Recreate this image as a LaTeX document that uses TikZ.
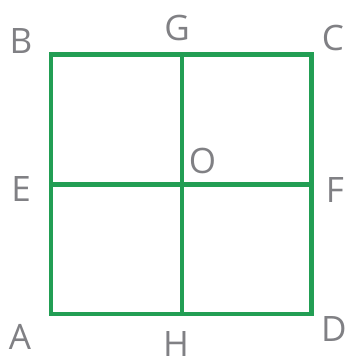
\documentclass[tikz,border=0pt]{standalone}
\usepackage{fontspec}
\setmainfont{Open Sans}
\definecolor{sqgreen}{RGB}{34,158,84}
\definecolor{lblgray}{RGB}{128,128,132}
\tikzset{
	edge/.style={line width=4.2pt, color=sqgreen},
	lbl/.style={inner sep=0pt, text=lblgray, font=\fontsize{35}{35}\selectfont}
}

\begin{document}
\begin{tikzpicture}[x=1pt, y=-1pt]
			%%%%% START %%%%%
			\useasboundingbox (0, 0) rectangle (347, 363);
			
			\coordinate (A) at (51, 314);
			\coordinate (B) at (51, 54.5);
			\coordinate (C) at (311.5, 54.5);
			\coordinate (D) at (311.5, 314);
			\coordinate (E) at (51, 184.5);
			\coordinate (F) at (311.5, 184.5);
			\coordinate (G) at (182, 54.5);
			\coordinate (H) at (182, 314);
			\coordinate (O) at (182, 184.5);
			
			\draw[edge] (G) -- (H);
			\draw[edge] (E) -- (F);
			\draw[edge, line join=miter] (A) -- (B) -- (C) -- (D) -- cycle;
			
			\node[lbl] (lA) at (20, 337) {A};
			\node[lbl] (lB) at (21, 41) {B};
			\node[lbl] (lC) at (333, 38.5) {C};
			\node[lbl] (lD) at (334, 329) {D};
			\node[lbl] (lE) at (21, 189) {E};
			\node[lbl] (lF) at (335, 190) {F};
			\node[lbl] (lG) at (177, 28) {G};
			\node[lbl] (lH) at (176, 344) {H};
			\node[lbl] (lO) at (202.5, 160.5) {O};
			%%%%% END %%%%%
\end{tikzpicture}
\end{document}
